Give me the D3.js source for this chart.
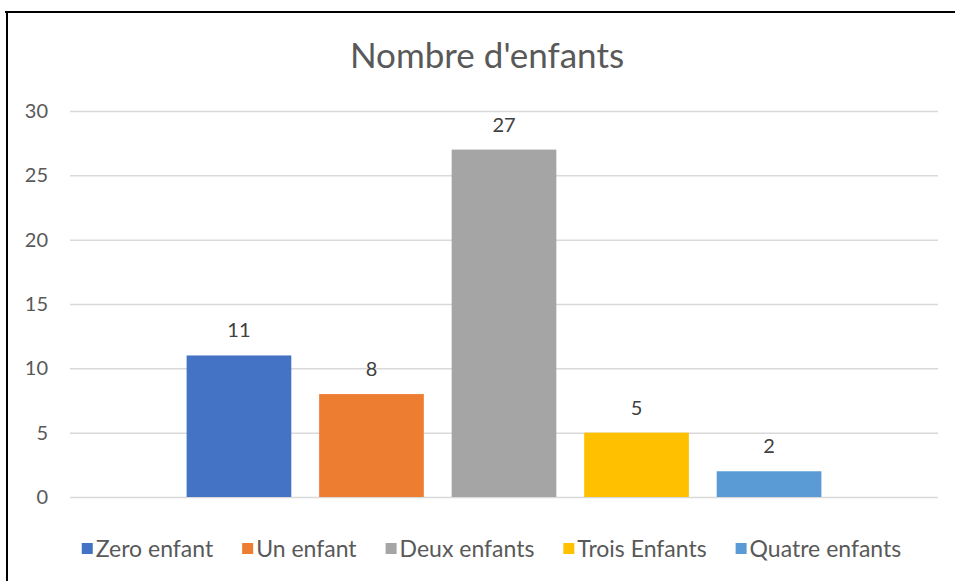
<!DOCTYPE html>
<html>
<head>
<meta charset="utf-8">
<script src="https://cdn.jsdelivr.net/npm/d3@7"></script>
<style>
  body { margin: 0; background: #fff; }
  svg text { font-family: Lato, "Open Sans", sans-serif; fill: #595959; }
</style>
</head>
<body>
<svg id="chart" width="955" height="581"></svg>
<script>
const categories = ["Zero enfant", "Un enfant", "Deux enfants", "Trois Enfants", "Quatre enfants"];
const values = [11, 8, 27, 5, 2];
const colors = ["#4472c4", "#ed7d31", "#a5a5a5", "#ffc000", "#5b9bd5"];
const yTicks = [0, 5, 10, 15, 20, 25, 30];

const svg = d3.select("#chart");
const width = 955, height = 581;

// chart frame (only top and left edges show in the picture)
svg.append("line").attr("x1", 5).attr("x2", width).attr("y1", 12).attr("y2", 12)
    .attr("stroke", "#000").attr("stroke-width", 2);
svg.append("line").attr("x1", 7).attr("x2", 7).attr("y1", 11).attr("y2", height)
    .attr("stroke", "#000").attr("stroke-width", 2);

const plot = { left: 70, right: 938, top: 111, bottom: 497 };

const x = d3.scaleBand()
    .domain(categories)
    .range([plot.left, plot.right])
    .paddingInner(0.21)
    .paddingOuter(0.88);

const y = d3.scaleLinear()
    .domain([0, 30])
    .range([plot.bottom, plot.top]);

// title
svg.append("text")
    .attr("x", 487).attr("y", 68)
    .attr("text-anchor", "middle")
    .style("font-size", "35px")
    .text("Nombre d'enfants");

// gridlines + y labels
const yAxis = d3.axisLeft(y)
    .tickValues(yTicks)
    .tickSize(-(plot.right - plot.left))
    .tickPadding(22);

const gy = svg.append("g")
    .attr("transform", `translate(${plot.left},0)`)
    .call(yAxis);
gy.select(".domain").remove();
gy.selectAll(".tick line").attr("stroke", "#d9d9d9").attr("stroke-width", 1.5);
gy.selectAll(".tick text")
    .attr("fill", "#595959")
    .style("font-size", "20px");

// bars
svg.append("g").selectAll("rect")
    .data(values)
    .enter().append("rect")
    .attr("x", (d, i) => x(categories[i]))
    .attr("y", d => y(d))
    .attr("width", x.bandwidth())
    .attr("height", d => y(0) - y(d))
    .attr("fill", (d, i) => colors[i]);

// value labels
svg.append("g").selectAll("text")
    .data(values)
    .enter().append("text")
    .attr("x", (d, i) => x(categories[i]) + x.bandwidth() / 2)
    .attr("y", d => y(d) - 18)
    .attr("text-anchor", "middle")
    .style("font-size", "20px")
    .style("fill", "#404040")
    .text(d => d);

// legend
const legend = svg.append("g");
const items = legend.selectAll("g")
    .data(categories)
    .enter().append("g");
items.append("rect")
    .attr("width", 11).attr("height", 11)
    .attr("y", -6)
    .attr("fill", (d, i) => colors[i]);
items.append("text")
    .attr("x", 14)
    .attr("y", 0)
    .attr("dy", "0.35em")
    .style("font-size", "23px")
    .text(d => d);

let offset = 0;
items.each(function() {
    const g = d3.select(this);
    g.attr("transform", `translate(${offset},0)`);
    offset += 14 + g.select("text").node().getComputedTextLength() + 29;
});
const legendWidth = offset - 29;
legend.attr("transform", `translate(${491.5 - legendWidth / 2}, 549)`);
</script>
</body>
</html>
